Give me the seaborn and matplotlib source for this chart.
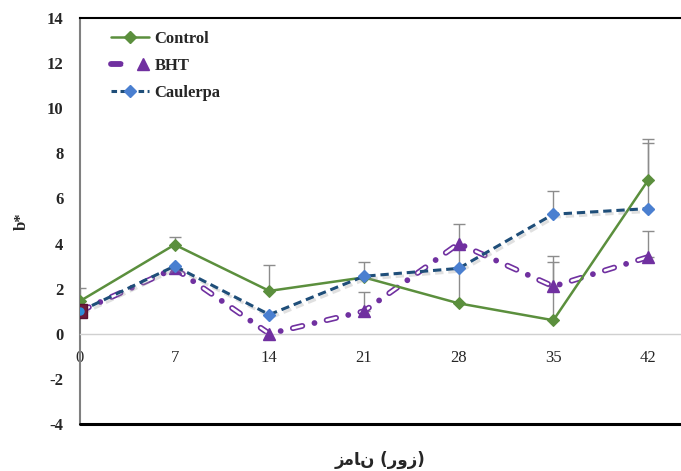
import matplotlib
matplotlib.use("Agg")
import matplotlib.pyplot as plt
import matplotlib.patheffects as pe
from matplotlib.lines import Line2D
from matplotlib.legend_handler import HandlerTuple
import numpy as np
import pandas as pd
import seaborn as sns

# Storage days and b* colour values
days = [0, 7, 14, 21, 28, 35, 42]
control = [1.45, 3.95, 1.9, 2.5, 1.35, 0.6, 6.8]
bht = [1.0, 2.9, 0.0, 1.0, 4.0, 2.1, 3.4]
caulerpa = [1.0, 3.0, 0.85, 2.55, 2.9, 5.3, 5.55]

# Upper standard deviations
control_sd = [0.6, 0.35, 1.15, 0.7, 3.5, 2.85, 1.85]
bht_sd = [0.0, 0.0, 0.0, 0.85, 0.0, 1.1, 1.15]
caulerpa_sd = [0.0, 0.0, 0.0, 0.0, 0.0, 1.05, 2.9]

series_names = ["Control", "BHT", "Caulerpa"]
y_ticks = [-4, -2, 0, 2, 4, 6, 8, 10, 12, 14]
x_title = "\uFEAF\uFEE3\uFE8E\uFEE5 (\uFEAD\uFEED\uFEAF)"

sns.set_theme(style="white")
plt.rcParams["font.family"] = ["Liberation Serif", "DejaVu Serif"]
plt.rcParams["lines.scale_dashes"] = False

GREEN = "#5B8F3D"
PURPLE = "#7030A0"
NAVY = "#1F4E79"
LIGHTBLUE = "#4A7FD0"
GRAY = "#8C8C8C"

df = pd.DataFrame({
    "day": days * 3,
    "value": control + bht + caulerpa,
    "series": np.repeat(series_names, len(days)),
})

fig = plt.figure(figsize=(6.81, 4.71), dpi=100)
ax = fig.add_axes([80 / 681, 1 - 424 / 471, 1 - 80 / 681, (424 - 18) / 471])

# Upper-only error bars
for vals, sd in [(control, control_sd), (bht, bht_sd), (caulerpa, caulerpa_sd)]:
    x = [d for d, s in zip(days, sd) if s > 0]
    y = [v for v, s in zip(vals, sd) if s > 0]
    e = [s for s in sd if s > 0]
    ax.errorbar(x, y, yerr=[np.zeros(len(e)), e], fmt="none", ecolor=GRAY,
                elinewidth=1.0, capsize=4, capthick=1.0, zorder=1)

# Control: solid green line with diamonds
sns.lineplot(data=df[df.series == "Control"], x="day", y="value", ax=ax,
             color=GREEN, lw=1.8, marker="D", markersize=6,
             markeredgecolor=GREEN, zorder=3, legend=False)

# BHT: hollow dash + dot pattern in purple
sns.lineplot(data=df[df.series == "BHT"], x="day", y="value", ax=ax,
             color=PURPLE, lw=4.2, zorder=2, legend=False)
bht_outer = ax.lines[-1]
bht_outer.set_dashes((7, 9, 0.01, 9))
bht_outer.set_dash_capstyle("round")
bht_inner, = ax.plot(days, bht, color="white", lw=1.8, zorder=2.1)
bht_inner.set_dashes((7, 18.01))
bht_inner.set_dash_capstyle("round")
ax.plot(days[1:], bht[1:], ls="none", marker="^", markersize=8,
        color=PURPLE, zorder=3.2)
ax.plot(days[:1], bht[:1], ls="none", marker="s", markersize=10,
        markerfacecolor="#6E1B3A", markeredgecolor="#5A1030", zorder=5.3)

# Caulerpa: dashed navy line with light blue diamonds and soft shadow
sns.lineplot(data=df[df.series == "Caulerpa"], x="day", y="value", ax=ax,
             color=NAVY, lw=2.2, zorder=4, legend=False)
caul_line = ax.lines[-1]
caul_line.set_dashes((6, 3.5))
caul_line.set_path_effects([
    pe.SimpleLineShadow(offset=(1.5, -2), shadow_color="#9A9A9A", alpha=0.3),
    pe.Normal(),
])
ax.plot(days[1:], caulerpa[1:], ls="none", marker="D", markersize=6.5,
        color=LIGHTBLUE, zorder=4.5)
ax.plot(days[:1], caulerpa[:1], ls="none", marker="o", markersize=5,
        color="#2E8BD8", zorder=5.5)

# Axes, spines and ticks
ax.set_xlim(0, 44.44)
ax.set_ylim(-4, 14)
ax.set_xticks(days)
ax.set_yticks(y_ticks)
ax.set_xticklabels([str(d) for d in days])
ax.set_yticklabels([str(t) for t in y_ticks])
ax.tick_params(axis="both", length=0, labelsize=12)
ax.tick_params(axis="x", pad=12)
ax.tick_params(axis="y", pad=12)
for lab in ax.get_xticklabels() + ax.get_yticklabels():
    lab.set_fontweight("bold")

ax.spines["bottom"].set_position(("data", 0))
ax.spines["bottom"].set_color("#D0D0D0")
ax.spines["bottom"].set_linewidth(1.0)
ax.spines["left"].set_color("#808080")
ax.spines["left"].set_linewidth(1.5)
ax.spines["top"].set_color("black")
ax.spines["top"].set_linewidth(1.5)
ax.spines["right"].set_visible(False)
ax.axhline(-4, color="black", lw=2.2, clip_on=False, zorder=5)

ax.set_xlabel("")
ax.set_ylabel("b*", fontsize=12, fontweight="bold", labelpad=12)

# Persian x-axis title
fig.text(380 / 681, 1 - 460 / 471, x_title, ha="center", va="center",
         fontsize=12, fontweight="bold", family=["DejaVu Sans"])

# Legend
control_h = Line2D([], [], color=GREEN, lw=1.8, marker="D", markersize=6)
bht_h1 = Line2D([], [], color=PURPLE, lw=4.2, dashes=(7, 6, 0.01, 6),
                dash_capstyle="round")
bht_h2 = Line2D([], [], color="white", lw=1.8, dashes=(7, 12.01),
                dash_capstyle="round")
bht_h3 = Line2D([], [], ls="none", color=PURPLE, marker="^", markersize=8)
caul_h = Line2D([], [], color=NAVY, lw=2.2, dashes=(4, 2.5),
                marker="D", markersize=6.5, markerfacecolor=LIGHTBLUE,
                markeredgecolor=LIGHTBLUE)
ax.legend([control_h, (bht_h1, bht_h2, bht_h3), caul_h], series_names,
          handler_map={tuple: HandlerTuple(ndivide=None, pad=0)},
          loc="upper left", bbox_to_anchor=(96 / 681, 1 - 16 / 471),
          bbox_transform=fig.transFigure, frameon=False,
          handlelength=2.3, handletextpad=0.3, labelspacing=0.65,
          prop={"family": "Liberation Serif", "weight": "bold", "size": 12})

fig.savefig("out.png", dpi=100, facecolor="white")
